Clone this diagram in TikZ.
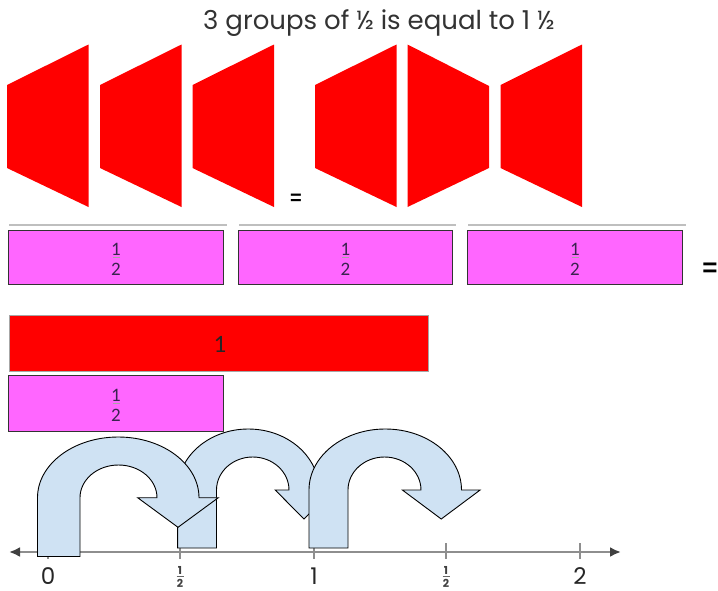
\documentclass[tikz,border=0pt]{standalone}
\usepackage{fontspec}
\setmainfont{Poppins}
\newfontfamily\boxfont{Carlito}
\newfontfamily\eqfont{Liberation Sans}
\usetikzlibrary{arrows.meta,calc}

\definecolor{shapered}{HTML}{FF0000}
\definecolor{barpink}{HTML}{FF66FF}
\definecolor{jumpblue}{HTML}{CFE2F3}
\definecolor{fracink}{HTML}{3A2350}
\definecolor{axisgray}{HTML}{8E8E8E}
\definecolor{titleink}{HTML}{333333}

% U-shaped jump arrow:
% #1 stem outer x, #2 stem inner x, #3 inner right x, #4 outer right x,
% #5 bottom y, #6 arc base y, #7 outer top y, #8 inner top y,
% #9 arrowhead depth
\newcommand{\jumparrow}[9]{%
  \pgfmathsetmacro\jxo{(#4-#1)/2}%
  \pgfmathsetmacro\jyo{#6-#7}%
  \pgfmathsetmacro\jxi{(#3-#2)/2}%
  \pgfmathsetmacro\jyi{#6-#8}%
  \pgfmathsetmacro\jmid{(#3+#4)/2}%
  \pgfmathsetmacro\jhalf{(#4-#3)*0.96}%
  \draw[jump] (#1,#5) -- (#1,#6)
    arc[start angle=180, end angle=0, x radius=\jxo pt, y radius=\jyo pt]
    -- (\jmid+\jhalf,#6) -- (\jmid,#6+#9) -- (\jmid-\jhalf,#6) -- (#3,#6)
    arc[start angle=0, end angle=180, x radius=\jxi pt, y radius=\jyi pt]
    -- (#2,#5) -- cycle;}

\begin{document}
\begin{tikzpicture}[x=1pt,y=-1pt,
  trap/.style={fill=shapered, draw=none},
  halfbox/.style={fill=barpink, draw=black!80, line width=1pt},
  wholebar/.style={fill=shapered, draw=black!35, line width=0.6pt},
  topline/.style={draw=black!25, line width=1.6pt},
  fracdigit/.style={font=\boxfont\fontsize{19}{19}\selectfont, text=fracink, inner sep=0pt},
  fracbar/.style={draw=black!35, line width=0.6pt},
  jump/.style={fill=jumpblue, draw=black, line width=0.9pt, line join=miter},
  axis/.style={draw=axisgray, line width=2.6pt},
  tick/.style={draw=axisgray, line width=1.2pt},
  axislabel/.style={font=\fontsize{23}{23}\selectfont, text=black!85, inner sep=0pt,
    text height=16pt, text depth=0pt},
  tinyfrac/.style={font=\bfseries\fontsize{11}{11}\selectfont, text=black!75, inner sep=0pt},
  eqsign/.style={font=\eqfont\bfseries, text=black, inner sep=0pt}
]
\useasboundingbox (0,0) rectangle (718,590);
\fill[white] (0,0) rectangle (718,590);

% heading
\node[font=\fontsize{26}{26}\selectfont, text=titleink, inner sep=0pt] (title) at (379,23)
  {3 groups of ½ is equal to 1 ½};

% red trapezoids: three on the left, three after the equal sign
\foreach \xl in {7,100,192.5,315,500.5}
  \fill[trap] (\xl,85) -- (\xl+81.5,44.5) -- (\xl+81.5,207) -- (\xl,168) -- cycle;
\fill[trap] (407.5,44.5) -- (489,86) -- (489,168) -- (407.5,207) -- cycle;
\node[eqsign, font=\eqfont\bfseries\fontsize{20}{20}\selectfont] (eqa) at (296,199) {=};

% row of three halves
\foreach \xl/\xr/\n in {8/223/a, 238/452/b, 467/682/c}{
  \draw[topline] (\xl+1,225) -- (\xr+4,225);
  \node[halfbox, minimum width=\xr-\xl, minimum height=54, inner sep=0pt, anchor=north west]
    (half\n) at (\xl,230) {};
  \node[fracdigit] (half\n num) at ($(half\n.center)+(0,-8)$) {1};
  \draw[fracbar] ($(half\n.center)+(-3.5,0)$) -- ($(half\n.center)+(3.5,0)$);
  \node[fracdigit] (half\n den) at ($(half\n.center)+(0,12)$) {2};
}
\node[eqsign, font=\eqfont\bfseries\fontsize{26}{26}\selectfont] (eqb) at (710,270) {=};

% one whole and one half
\node[wholebar, minimum width=419, minimum height=56, inner sep=0pt, anchor=north west]
  (whole) at (9,315) {};
\node[font=\boxfont\fontsize{25}{25}\selectfont, text=black!85, inner sep=0pt] (wholelabel)
  at (220,344) {1};
\node[halfbox, minimum width=215, minimum height=56, inner sep=0pt, anchor=north west]
  (halfd) at (8,375) {};
\node[fracdigit] (halfdnum) at ($(halfd.center)+(0,-8)$) {1};
\draw[fracbar] ($(halfd.center)+(-3.5,0)$) -- ($(halfd.center)+(3.5,0)$);
\node[fracdigit] (halfdden) at ($(halfd.center)+(0,12)$) {2};

% number line
\coordinate (axisL) at (9,552);
\coordinate (axisR) at (621,552);
\foreach \x/\n in {48/t0, 180/t1, 314/t2, 446/t3, 580/t4}{
  \coordinate (\n) at (\x,552);
  \draw[tick] ($(\n)+(0,-9)$) -- ($(\n)+(0,7)$);
}
\draw[axis, {Latex[length=11pt,width=10pt,color=black!75]}-{Latex[length=11pt,width=10pt,color=black!75]}]
  (axisL) -- (axisR);
\node[axislabel] (l0) at ($(t0)+(0,24.5)$) {0};
\node[axislabel] (l2) at ($(t2)+(0,24.5)$) {1};
\node[axislabel] (l4) at ($(t4)+(0,24.5)$) {2};
\foreach \n in {t1,t3}{
  \node[tinyfrac] (\n a) at ($(\n)+(0,18.5)$) {1};
  \draw[black!60, line width=0.7pt] ($(\n)+(-3.5,24.5)$) -- ($(\n)+(3.5,24.5)$);
  \node[tinyfrac] (\n b) at ($(\n)+(0,31)$) {2};
}

% three jumps of one half
\jumparrow{177.6}{216.5}{289}{319}{548}{490}{429}{457}{29}
\jumparrow{37.5}{80}{157}{199}{556.5}{497.7}{437}{465}{29.6}
\jumparrow{309}{348}{421}{461.5}{548}{490}{429}{457}{29}
\end{tikzpicture}
\end{document}
